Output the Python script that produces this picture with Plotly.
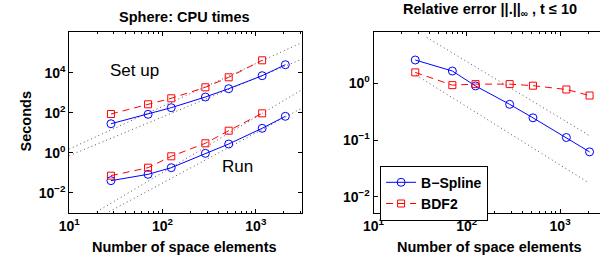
import plotly.graph_objects as go

# ---- data ----
n_elems = [28, 70, 124, 288, 512, 1168, 2070]
n_elems_bdf2_cpu = [28, 70, 124, 288, 512, 1168]

setup_bspline = [28, 83, 178, 610, 1585, 7080, 25100]
setup_bdf2 = [86, 263, 525, 1862, 5890, 41700]
run_bspline = [0.040, 0.083, 0.178, 0.93, 2.72, 16.6, 66]
run_bdf2 = [0.071, 0.178, 0.66, 2.95, 12.6, 93]

err_bspline = [2.58, 1.65, 0.90, 0.427, 0.247, 0.111, 0.062]
err_bdf2 = [1.56, 0.93, 0.97, 0.97, 0.91, 0.78, 0.61]

# dotted reference lines (end points)
ref_cpu_x = [[10, 3090], [10, 3090], [19.7, 3090], [26.8, 3090]]
ref_cpu_y = [[1.53, 316000], [0.71, 46800], [0.00112, 1365], [0.00112, 166]]
ref_err_x = [[37.1, 2023], [28.6, 2023]]
ref_err_y = [[6.47, 0.1225], [1.40, 0.01766]]

x_tick_vals = [10, 100, 1000]
x_tick_text = ["10<sup>1</sup>", "10<sup>2</sup>", "10<sup>3</sup>"]
y1_tick_vals = [0.01, 1, 100, 10000]
y1_tick_text = ["10<sup>−2</sup>", "10<sup>0</sup>", "10<sup>2</sup>", "10<sup>4</sup>"]
y2_tick_vals = [0.01, 0.1, 1]
y2_tick_text = ["10<sup>−2</sup>", "10<sup>−1</sup>", "10<sup>0</sup>"]

FONT = "Liberation Sans, Arial, Helvetica, sans-serif"
BLUE = "#0000FF"
RED = "#FF0000"
DOT = "#555555"

W, H = 600, 257


def px(x):
    return x / W


def py(y):
    return 1 - y / H


minor_x = [m * 10 ** k for k in range(1, 4) for m in range(2, 10)]

fig = go.Figure()

for xs, ys in zip(ref_cpu_x, ref_cpu_y):
    fig.add_trace(go.Scatter(x=xs, y=ys, mode="lines", showlegend=False,
                             line=dict(color=DOT, width=1, dash="1px,3px"),
                             xaxis="x", yaxis="y", hoverinfo="skip"))
for xs, ys in zip(ref_err_x, ref_err_y):
    fig.add_trace(go.Scatter(x=xs, y=ys, mode="lines", showlegend=False,
                             line=dict(color=DOT, width=1, dash="1px,3px"),
                             xaxis="x2", yaxis="y2", hoverinfo="skip"))

blue_line = dict(color=BLUE, width=1)
red_line = dict(color=RED, width=1, dash="7px,5px")
blue_marker = dict(symbol="circle-open", size=8, color=BLUE, line=dict(width=1, color=BLUE))
red_marker = dict(symbol="square-open", size=7, color=RED, line=dict(width=1, color=RED))

fig.add_trace(go.Scatter(x=n_elems, y=setup_bspline, mode="lines+markers", line=blue_line,
                         marker=blue_marker, showlegend=False, xaxis="x", yaxis="y"))
fig.add_trace(go.Scatter(x=n_elems_bdf2_cpu, y=setup_bdf2, mode="lines+markers", line=red_line,
                         marker=red_marker, showlegend=False, xaxis="x", yaxis="y"))
fig.add_trace(go.Scatter(x=n_elems, y=run_bspline, mode="lines+markers", line=blue_line,
                         marker=blue_marker, showlegend=False, xaxis="x", yaxis="y"))
fig.add_trace(go.Scatter(x=n_elems_bdf2_cpu, y=run_bdf2, mode="lines+markers", line=red_line,
                         marker=red_marker, showlegend=False, xaxis="x", yaxis="y"))

fig.add_trace(go.Scatter(x=n_elems, y=err_bspline, mode="lines+markers", line=blue_line,
                         marker=blue_marker, name="B−Spline", xaxis="x2", yaxis="y2"))
fig.add_trace(go.Scatter(x=n_elems, y=err_bdf2, mode="lines+markers", line=red_line,
                         marker=red_marker, name="BDF2", xaxis="x2", yaxis="y2"))

tickfont = dict(family=FONT, size=14, color="black", weight="bold")
common_x = dict(type="log", showline=True, linecolor="black", linewidth=1,
                ticks="inside", ticklen=4, tickcolor="black", showgrid=False, zeroline=False,
                tickmode="array", tickvals=x_tick_vals, ticktext=x_tick_text, tickfont=tickfont,
                minor=dict(ticks="inside", ticklen=2, tickcolor="black", showgrid=False,
                           tickmode="array", tickvals=minor_x))

y_dom = [py(212.7), py(32.3)]

fig.update_layout(
    width=W, height=H,
    margin=dict(l=0, r=0, t=0, b=0),
    paper_bgcolor="white", plot_bgcolor="white",
    font=dict(family=FONT, size=14, color="black"),
    xaxis=dict(common_x, domain=[px(59.3), px(296)], range=[1, 3.49], mirror="ticks", anchor="y"),
    yaxis=dict(type="log", domain=y_dom, range=[-3, 6.02], anchor="x",
               showline=True, linecolor="black", linewidth=1, mirror="ticks",
               ticks="inside", ticklen=4, tickcolor="black", showgrid=False, zeroline=False,
               tickmode="array", tickvals=y1_tick_vals, ticktext=y1_tick_text, tickfont=tickfont),
    xaxis2=dict(common_x, domain=[px(369.3), 1.0], range=[1, 3.428], mirror="ticks", anchor="y2"),
    yaxis2=dict(type="log", domain=y_dom, range=[-2.28, 0.9], anchor="x2",
                showline=True, linecolor="black", linewidth=1, mirror=False,
                ticks="inside", ticklen=4, tickcolor="black", showgrid=False, zeroline=False,
                tickmode="array", tickvals=y2_tick_vals, ticktext=y2_tick_text, tickfont=tickfont),
    legend=dict(x=px(376), y=py(165.7), xanchor="left", yanchor="top",
                bgcolor="white", bordercolor="black", borderwidth=1,
                font=dict(family=FONT, size=14, color="black", weight="bold"),
                tracegroupgap=0, itemwidth=30),
    showlegend=True,
)

bold = dict(family=FONT, size=14.5, color="black", weight="bold")
annos = [
    dict(text="Sphere: CPU times", x=px(177), y=py(17.5), font=bold),
    dict(text="Relative error ||.||<sub>∞</sub> , t ≤ 10", x=px(487.5), y=py(10), font=bold),
    dict(text="Number of space elements", x=px(177), y=py(246.5), font=bold),
    dict(text="Number of space elements", x=px(487.5), y=py(246.5), font=bold),
    dict(text="Seconds", x=px(15), y=py(121.7), font=bold, textangle=-90),
    dict(text="Set up", x=px(126), y=py(70.5), font=dict(family=FONT, size=17, color="black")),
    dict(text="Run", x=px(230.3), y=py(166.7), font=dict(family=FONT, size=17, color="black")),
]
for a in annos:
    fig.add_annotation(xref="paper", yref="paper", showarrow=False,
                       xanchor="center", yanchor="middle", **a)

# the page's default 8px body margin would shift the figure; remove it
fig.write_html("out.html",
               config={"displayModeBar": False},
               post_script="document.body.style.margin='0px';document.body.style.overflow='hidden';")
